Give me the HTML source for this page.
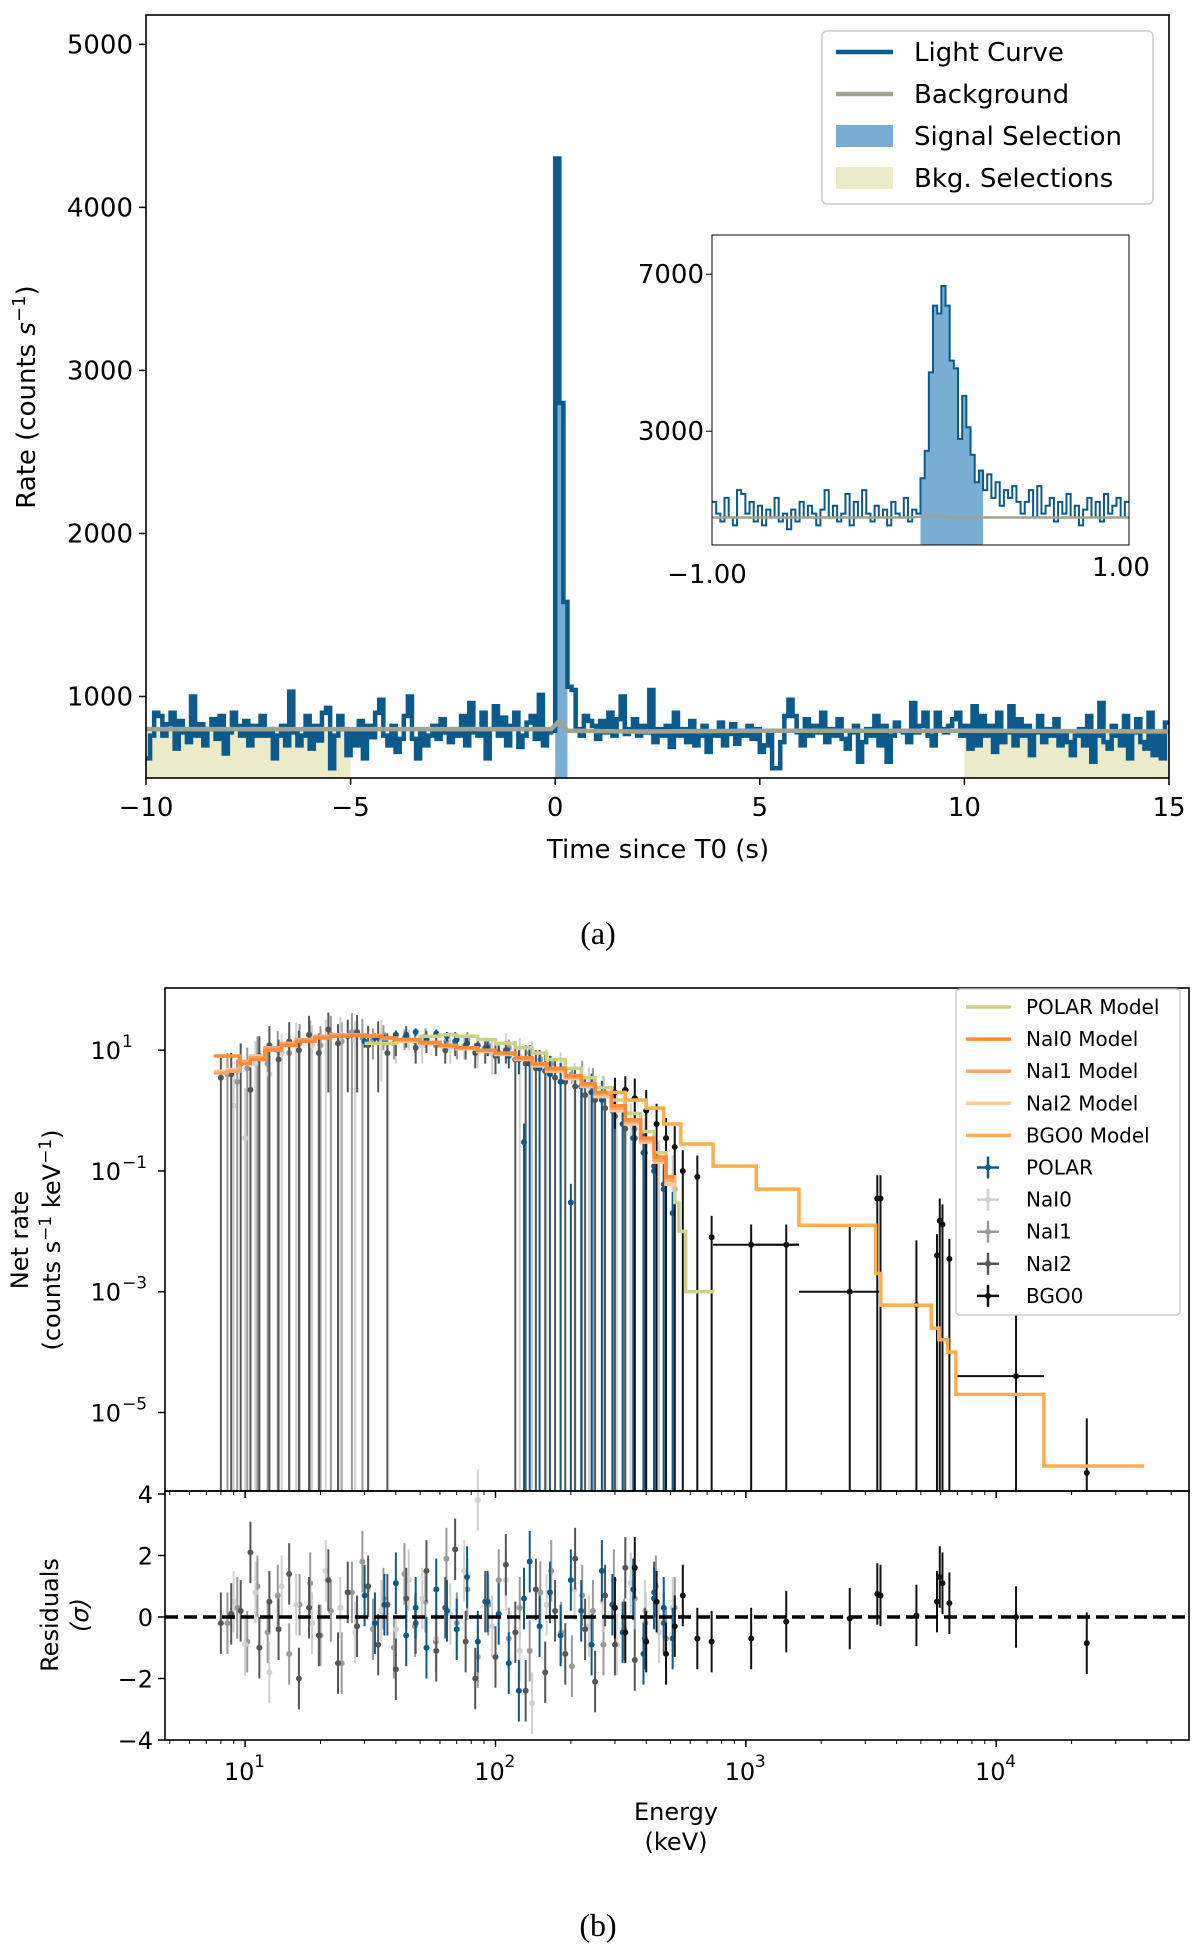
<!DOCTYPE html>
<html><head><meta charset="utf-8"><style>
html,body{margin:0;padding:0;background:#fff;}
svg{display:block;font-family:"DejaVu Sans","Liberation Sans",sans-serif;}
</style></head><body>
<svg id="fig" width="1200" height="1957" viewBox="0 0 1200 1957" xmlns="http://www.w3.org/2000/svg">
<g id="pa"></g>
<g id="pb"></g>
<text x="598" y="944" font-family="Liberation Serif, serif" font-size="32" text-anchor="middle">(a)</text>
<text x="598" y="1936" font-family="Liberation Serif, serif" font-size="32" text-anchor="middle">(b)</text>
</svg>
<script>
// ---------- Panel (a) data ----------
const lcStart = -10, lcBin = 0.1;
const lcRates = [
620,760,900,880,760,830,900,680,850,780,720,1000,760,830,700,800,860,740,880,650,780,900,820,760,850,
700,820,760,880,760,800,620,760,820,700,1030,780,700,760,880,680,820,730,900,930,560,760,880,800,640,
780,700,850,620,820,750,900,980,760,700,820,660,740,880,1000,740,620,790,700,760,820,740,860,780,720,
800,760,880,700,960,780,760,900,620,800,940,760,870,700,820,900,690,760,840,880,740,1010,700,780,790,
4300,2800,1580,1060,1040,800,760,880,850,820,740,850,780,900,760,860,1000,770,800,860,760,820,780,1040,720,
800,760,820,690,900,760,800,720,850,700,760,820,660,780,760,840,700,770,830,710,790,760,820,740,800,
660,700,780,560,560,720,880,980,880,780,700,860,760,820,780,900,720,800,760,860,740,680,780,820,600,
720,800,760,880,700,820,600,760,840,790,780,720,960,780,820,900,760,700,900,800,780,820,860,900,760,
820,680,940,700,880,760,820,660,900,720,780,940,700,860,760,820,640,780,880,720,800,760,860,700,780,
720,640,760,800,700,880,600,760,960,720,680,820,760,700,880,620,780,860,720,680,900,640,760,620,840];
const bgTimes = [-10,-5,-0.1,0.1,0.3,2,5,10,15];
const bgRates = [800,800,800,850,790,785,790,790,785];
const signalSel = [0,0.3];
const bkgSel = [[-10,-5],[10,15]];
const mainYTicks = [1000,2000,3000,4000,5000];
const mainXTicks = [-10,-5,0,5,10,15];
const inStart = -1, inBin = 0.02;
const inRates = [
1200,900,700,1300,800,600,1500,1400,900,1200,700,1100,600,1000,800,1300,700,900,500,1000,700,1200,800,1100,900,
600,1000,1500,800,1100,700,900,1400,600,1200,800,1500,900,700,1100,800,1000,600,1200,900,800,1300,700,1000,900,
1800,2500,4500,6200,6000,6700,6200,4800,4600,2800,3900,3100,2400,1700,2000,1500,1900,1300,1700,1100,1500,1300,1600,1200,900,
1200,1500,800,1600,900,1100,1300,700,1200,900,1400,800,1100,600,1000,1300,800,1200,700,1400,900,1100,1300,800,1200];
const inYTicks = [3000,7000];

// ---------- Panel (b) data ----------
const nai0E = [9,10,11,12.5,14,16,18.5,21,24,27.5,31,35,40,45,51,58,66,75,85,97,110,125,140,160,182,207,236,268,305,347,395,450,510];
const nai0V = [1.2,0.35,6,4,9,14,12,16,18,15,13,17,14,16,12,13,11,12,10,9,13,8,7,5,4.5,3,2.5,1.8,1,0.6,0.35,0.15,0.08];
const nai0Err = [3,2,8,7,10,15,14,16,18,15,13,14,8,6,6,5,5,5,5,5,6,8,7,5.2,4.7,3.2,2.7,2,1.1,0.7,0.4,0.17,0.1];
const nai0Res = [0.5,-0.9,0.8,-1.8,1,0.4,-0.2,1.5,0.3,-0.5,0.9,0.2,-0.4,1.2,0.6,-0.7,0.1,1.5,3.8,-0.3,1.2,-1.1,-2.8,0.4,-0.6,0.9,-0.3,0.5,-0.9,1.1,0.2,-0.5,0.3];
const nai1E = [8.5,9.3,10.2,11.2,12.3,13.5,15,16.5,18.2,20,22,24.3,26.7,29.4,32.4,35.7,39.3,43.3,47.7,52.5,57.8,63.7,70.1,77.2,85,93.6,103,113,125,137,151,167,183,202,222,245,270,297,327,360,397,437,480,520];
const nai1V = [4,3,5,8,6,10,9,13,15,12,18,14,20,16,15,18,13,16,14,17,12,14,11,15,10,12,9,11,8,9,7,6,5,4,3.2,2.5,1.8,1.2,0.8,0.5,0.3,0.15,0.08,0.05];
const nai1Err = [5,4,6,9,7,11,10,14,16,13,19,15,21,17,8,8,6,6,5,6,4,5,4,5,3,4,3,4,3,3,2.5,2,1.5,1.2,3.5,2.6,1.9,1.3,0.9,0.55,0.35,0.17,0.09,0.06];
const nai1Res = [-0.2,0.3,-0.8,1,-0.5,0.7,-1.2,0.4,1.1,-0.6,0.2,-1.5,0.8,1.8,-0.4,0.6,-1,1.4,-0.3,0.5,-0.8,1.9,-0.2,0.9,-1.3,0.4,1.2,-0.7,0.3,-1.1,0.8,1.5,-0.5,-1.6,0.7,0.2,-0.9,1.2,-0.4,0.6,-0.2,1,-0.7,0.3];
const nai2E = [8,8.8,9.6,10.5,11.4,12.5,13.6,15,16.4,18,19.7,21.5,23.5,25.7,28,31,34,37,40,44,48,53,58,63,69,76,83,91,100,110,120,132,145,158,173,190,208,228,250,274,300,330,360,395,430,470];
const nai2V = [3.5,4,6,2.2,8,12,7,14,10,18,9,22,13,17,20,12,16,9,14,18,11,15,13,10,14,12,9,11,8,10,7,6,5,4.5,3.5,3,2.5,1.8,1.5,1.1,0.8,0.5,0.35,0.2,0.12,0.06];
const nai2Err = [4,5,7,3,9,13,8,15,11,19,10,20,14,15,18,13,14,10,6,7,5,6,5,4,6,5,4,5,4,4,7,6,5,4.8,3.6,3.1,2.6,1.9,1.6,1.2,0.9,0.6,0.4,0.25,0.15,0.08];
const nai2Res = [-0.2,0.1,0.2,2.1,-1,0.5,-0.4,1.4,-2,0.3,-0.6,1.2,-1.5,0.8,-0.3,1,-0.9,0.4,-1.7,0.6,-0.2,1.5,-1.1,0.3,2.2,-0.8,-2,0.5,-1.3,1.7,-0.5,-2.4,0.9,-1.8,0.2,-1.2,1.9,-0.4,-2.1,0.7,-0.9,1.6,-1.4,-0.7,0.8,-0.2];
const polE = [30,33,36,40,44,48,53,58,64,70,77,85,93,103,113,124,130,137,150,165,182,200,220,242,266,293,322,355,390,430,470,510];
const polV = [14,16,15,18,17,20,16,19,17,15,13,12,11,9,8,7,0.3,6,5,4,3,0.03,2.5,2,1.5,1,0.6,0.35,0.2,0.1,0.05,0.02];
const polErr = [3,3,3,3,3,3,3,3,3,3,3,3,3,3,3,3,0.31,6.1,5.1,4.1,3.1,0.031,2.6,2.1,1.6,1.1,0.65,0.4,0.22,0.12,0.06,0.025];
const polRes = [0.7,-0.2,0.4,1.1,-0.6,0.3,-1,0.9,0.2,-0.4,1.3,-0.8,0.5,0.1,-1.5,-2.4,0.6,1.8,-0.3,0.8,-0.6,1.2,0.2,-0.9,1.5,0.4,-0.5,0.9,-1.2,0.6,0.3,-0.7];
const bgoE = [300,330,360,400,440,480,520,560,640,730,1050,1450,2600,3350,3450,4800,5800,5950,6100,6500,12000,23000];
const bgoELo = [290,320,350,390,430,470,510,550,630,720,740,1100,1630,3340,3440,3460,5790,5940,6090,6490,6900,22900];
const bgoEHi = [310,340,370,410,450,490,530,570,650,740,1630,1630,3460,3360,3460,5500,5810,5960,6110,6510,15500,23100];
const bgoV = [2,2.2,1.6,1,0.6,0.35,0.25,0.1,0.08,0.008,0.006,0.006,0.001,0.035,0.035,6e-4,0.004,0.015,0.013,0.0035,4e-5,1e-6];
const bgoErr = [1.5,1.5,1.8,1.2,0.7,0.4,0.3,0.12,0.1,0.01,0.007,0.007,0.012,0.05,0.05,0.0065,0.005,0.02,0.015,0.004,4.2e-4,7e-6];
const bgoRes = [0.3,-0.5,1.6,-0.8,0.5,-1.2,-0.3,0.7,-0.7,-0.8,-0.7,-0.15,-0.05,0.75,0.7,0.05,0.5,1.3,1.1,0.45,0,-0.85];
const naiModelEdges = [7.5,8.5,9.5,10.5,12,14,16,19,22,26,30,35,40,50,60,70,85,100,120,140,160,190,220,250,290,330,380,430,480,520];
const nai0ModelV = [8,8,6,7,10,12,14,16,17,17.5,17,16,15,13.5,12,11,10,9,7.5,6,5,3.8,2.8,2,1.2,0.7,0.35,0.17,0.08];
const nai1ModelV = [4.2,4.5,6.5,7.5,11,13,15,17,18,18,17.5,16,15,13,12,11,10,8.8,7.2,5.8,4.8,3.6,2.6,1.9,1.1,0.65,0.32,0.15,0.07];
const nai2ModelV = [4.5,4.8,6,8,10.5,12.5,14.5,16.5,17.5,18,17,15.5,14,13,11.5,10.5,9.5,8.5,7,5.5,4.5,3.4,2.5,1.7,1,0.6,0.3,0.14,0.06];
const bgoModelEdges = [280,330,400,470,550,740,1100,1630,3300,3460,5500,5900,6400,6900,15500,39000];
const bgoModelV = [2,1.5,1.1,0.6,0.28,0.12,0.05,0.0126,0.002,6e-4,2.5e-4,1.6e-4,1e-4,2e-5,1.3e-6];
const polModelEdges = [30,40,50,60,70,85,100,120,140,160,190,220,250,290,330,380,430,480,520,540,575,750];
const polModelV = [13,15,17,18,17,15,13,11,9,7,5,3.5,2.4,1.5,0.9,0.45,0.2,0.08,0.03,0.01,0.001];
const specYTicks = [1,-1,-3,-5];
const resYTicks = [-4,-2,0,2,4];
const energyTicks = [1,2,3,4];

const NS = 'http://www.w3.org/2000/svg';
function el(parent, tag, attrs, txt){const e=document.createElementNS(NS,tag);for(const k in attrs)e.setAttribute(k,attrs[k]);if(txt!==undefined)e.textContent=txt;parent.appendChild(e);return e;}

// ================= Panel A =================
const pa = document.getElementById('pa');
const A = {l:146,r:1169,t:15,b:778,x0:-10,x1:15,y0:500,y1:5180};
const ax = v => A.l + (v-A.x0)/(A.x1-A.x0)*(A.r-A.l);
const ay = v => A.b - (v-A.y0)/(A.y1-A.y0)*(A.b-A.t);
// bkg selections
bkgSel.forEach(s=>{
  const r = el(pa,'rect',{x:ax(s[0]),y:ay(800),width:ax(s[1])-ax(s[0]),height:A.b-ay(800),fill:'#ecebc9'});
  
  
});
// signal selection under curve
{
  let d=''; 
  lcRates.forEach((v,i)=>{const t=lcStart+i*lcBin; if(t>=signalSel[0]-1e-9 && t<signalSel[1]-1e-9){d+=`M${ax(t)},${A.b}V${ay(v)}H${ax(t+lcBin)}V${A.b}Z`;}});
  const p=el(pa,'path',{d:d,fill:'#7aadd3'});
  
  
}
// light curve step
{
  let d='';
  lcRates.forEach((v,i)=>{const t=lcStart+i*lcBin; const y=Math.max(ay(v),A.t); d+=(i===0?`M${ax(t)},${y}`:`V${y}`)+`H${ax(t+lcBin)}`;});
  const p=el(pa,'path',{d:d,fill:'none',stroke:'#0c5a8c','stroke-width':4.5});
  
  
}
{
  const pts=bgTimes.map((t,i)=>ax(t)+','+ay(bgRates[i])).join(' ');
  const p=el(pa,'polyline',{points:pts,fill:'none',stroke:'#9ea392','stroke-width':4.5});
  
  
}
el(pa,'rect',{x:A.l,y:A.t,width:A.r-A.l,height:A.b-A.t,fill:'none',stroke:'#000','stroke-width':1.6});
mainYTicks.forEach(v=>{const y=ay(v);el(pa,'line',{x1:A.l-7,x2:A.l,y1:y,y2:y,stroke:'#000','stroke-width':1.5});
  const t=el(pa,'text',{x:A.l-13,y:y+9,'font-size':26,'text-anchor':'end'},String(v));
  
  });
mainXTicks.forEach(v=>{const x=ax(v);el(pa,'line',{x1:x,x2:x,y1:A.b,y2:A.b+7,stroke:'#000','stroke-width':1.5});
  const t=el(pa,'text',{x:x,y:A.b+38,'font-size':26,'text-anchor':'middle'},(v<0?'\u2212'+(-v):String(v)));
  
  });
{
  const t=el(pa,'text',{x:658,y:858,'font-size':26,'text-anchor':'middle'},'Time since T0 (s)');
  
  
  const t2=el(pa,'text',{transform:'translate(35,397) rotate(-90)','font-size':26,'text-anchor':'middle'});
  
  
  t2.innerHTML='Rate (counts <tspan font-style="italic">s</tspan><tspan dy="-10" font-size="18">\u22121</tspan><tspan dy="10">)</tspan>';
}
// legend a
{
  const g=el(pa,'g',{});
  
  
  el(g,'rect',{x:822,y:31,width:331,height:173,rx:5,fill:'#fff',stroke:'#ccc','stroke-width':1.5});
  const items=[['Light Curve','line','#0c5a8c'],['Background','line','#9ea392'],['Signal Selection','rect','#7aadd3'],['Bkg. Selections','rect','#ecebc9']];
  items.forEach((it,i)=>{const y=52+i*42;
    if(it[1]==='line') el(g,'line',{x1:836,x2:893,y1:y,y2:y,stroke:it[2],'stroke-width':4.5});
    else el(g,'rect',{x:836,y:y-11,width:57,height:22,fill:it[2],stroke:it[3]||'none'});
    const t=el(g,'text',{x:914,y:y+9,'font-size':26},it[0]);
    
    });
}
// inset
{
  const I={l:712,r:1129,t:235,b:545,x0:-1,x1:1,y0:100,y1:8000};
  const ix=v=>I.l+(v-I.x0)/(I.x1-I.x0)*(I.r-I.l);
  const iy=v=>I.b-(v-I.y0)/(I.y1-I.y0)*(I.b-I.t);
  const g=el(pa,'g',{});
  
  
  el(g,'rect',{x:I.l,y:I.t,width:I.r-I.l,height:I.b-I.t,fill:'#fff',stroke:'#000','stroke-width':1});
  let d='';
  inRates.forEach((v,i)=>{const t=inStart+i*inBin; if(t>=signalSel[0]-1e-9&&t<signalSel[1]-1e-9) d+=`M${ix(t)},${I.b}V${iy(v)}H${ix(t+inBin)}V${I.b}Z`;});
  const sp=el(g,'path',{d:d,fill:'#7aadd3'});
  
  
  let d2='';
  inRates.forEach((v,i)=>{const t=inStart+i*inBin; d2+=(i===0?`M${ix(t)},${iy(v)}`:`V${iy(v)}`)+`H${ix(t+inBin)}`;});
  const lp=el(g,'path',{d:d2,fill:'none',stroke:'#0c5a8c','stroke-width':2});
  
  
  const bl=el(g,'polyline',{points:`${ix(-1)},${iy(800)} ${ix(-0.05)},${iy(800)} ${ix(0.05)},${iy(850)} ${ix(0.15)},${iy(800)} ${ix(1)},${iy(800)}`,fill:'none',stroke:'#9ea392','stroke-width':2.5});
  
  
  el(g,'rect',{x:I.l,y:I.t,width:I.r-I.l,height:I.b-I.t,fill:'none',stroke:'#000','stroke-width':1});
  inYTicks.forEach(v=>{const y=iy(v);el(g,'line',{x1:I.l-6,x2:I.l,y1:y,y2:y,stroke:'#000'});
    const t=el(g,'text',{x:I.l-8,y:y+9,'font-size':26,'text-anchor':'end'},String(v));
    
    });
  const t1=el(g,'text',{x:707,y:583,'font-size':26,'text-anchor':'middle'},'\u22121.00');
  
  
  const t2=el(g,'text',{x:1121,y:576,'font-size':26,'text-anchor':'middle'},'1.00');
  
  
}

// ================= Panel B =================
const pb=document.getElementById('pb');
const B={l:165,r:1189,t:988,m:1491,b:1740,lx0:0.68,lx1:4.77,ly0:-6.3,ly1:2.03};
const bx=e=>B.l+(Math.log10(e)-B.lx0)/(B.lx1-B.lx0)*(B.r-B.l);
const by=v=>v<=0?B.m:Math.max(B.t,Math.min(B.m,B.m-(Math.log10(v)-B.ly0)/(B.ly1-B.ly0)*(B.m-B.t)));
const ry=v=>B.b-(v+4)/8*(B.b-B.m-3)-0;
const clipId='clipB';
{const cp=el(pb,'clipPath',{id:clipId});el(cp,'rect',{x:B.l,y:B.t,width:B.r-B.l,height:B.m-B.t});}
const specG=el(pb,'g',{'clip-path':'url(#clipB)'});


const dets=[
  ['nai1',nai1E,nai1V,nai1Err,nai1Res,'#999999'],
  ['nai0',nai0E,nai0V,nai0Err,nai0Res,'#d0d0d0'],
  ['nai2',nai2E,nai2V,nai2Err,nai2Res,'#555555'],
  ['polar',polE,polV,polErr,polRes,'#0c5a8c'],
];
function drawPoints(name,E,V,Err,Res,col,ELo,EHi){
  const g=el(specG,'g',{});
  
  
  const rg=el(pb,'g',{});
  
  
  E.forEach((e,i)=>{const x=bx(e);
    const lo=V[i]-Err[i], hi=V[i]+Err[i];
    el(g,'line',{x1:x,x2:x,y1:by(hi),y2:lo<=0?B.m:by(lo),stroke:col,'stroke-width':2});
    if(ELo) el(g,'line',{x1:bx(ELo[i]),x2:bx(EHi[i]),y1:by(V[i]),y2:by(V[i]),stroke:col,'stroke-width':2});
    el(g,'circle',{cx:x,cy:by(V[i]),r:3,fill:col});
    const r=Res[i];
    el(rg,'line',{x1:x,x2:x,y1:ry(r+1),y2:ry(r-1),stroke:col,'stroke-width':2});
    el(rg,'circle',{cx:x,cy:ry(r),r:3,fill:col});
  });
}
function stepModel(name,edges,vals,col){
  let d='';
  vals.forEach((v,i)=>{const y=by(v); d+=(i===0?`M${bx(edges[i])},${y}`:`V${y}`)+`H${bx(edges[i+1])}`;});
  const p=el(specG,'path',{d:d,fill:'none',stroke:col,'stroke-width':3.5});
  
  
}
dets.forEach(dd=>drawPoints(dd[0],dd[1],dd[2],dd[3],dd[4],dd[5]));
drawPoints('bgo0',bgoE,bgoV,bgoErr,bgoRes,'#111111',bgoELo,bgoEHi);
stepModel('polar-model',polModelEdges,polModelV,'#cfcf8c');
stepModel('nai2-model',naiModelEdges,nai2ModelV,'#fcc99a');
stepModel('nai1-model',naiModelEdges,nai1ModelV,'#fba56a');
stepModel('nai0-model',naiModelEdges,nai0ModelV,'#ff8a3a');
stepModel('bgo0-model',bgoModelEdges,bgoModelV,'#ffad4d');
// residual zero line
{const l=el(pb,'line',{x1:B.l,x2:B.r,y1:ry(0),y2:ry(0),stroke:'#000','stroke-width':3.5,'stroke-dasharray':'13,6'});
 
 }
el(pb,'rect',{x:B.l,y:B.t,width:B.r-B.l,height:B.m-B.t,fill:'none',stroke:'#000','stroke-width':1.6});
el(pb,'rect',{x:B.l,y:B.m,width:B.r-B.l,height:B.b-B.m,fill:'none',stroke:'#000','stroke-width':1.6});
specYTicks.forEach(p=>{const y=by(Math.pow(10,p));el(pb,'line',{x1:B.l-7,x2:B.l,y1:y,y2:y,stroke:'#000','stroke-width':1.5});
  const t=el(pb,'text',{x:B.l-44,y:y+9,'font-size':24,'text-anchor':'end'},'10');
  
  
  el(pb,'text',{x:B.l-43,y:y-3,'font-size':17,'text-anchor':'start'},(p<0?'\u2212'+(-p):String(p)));});
resYTicks.forEach(v=>{const y=ry(v);el(pb,'line',{x1:B.l-7,x2:B.l,y1:y,y2:y,stroke:'#000','stroke-width':1.5});
  const t=el(pb,'text',{x:B.l-12,y:y+9,'font-size':24,'text-anchor':'end'},(v<0?'\u2212'+(-v):String(v)));
  
  });
energyTicks.forEach(p=>{const x=bx(Math.pow(10,p));
  [B.m,B.b].forEach(yy=>el(pb,'line',{x1:x,x2:x,y1:yy,y2:yy+7,stroke:'#000','stroke-width':1.5}));
  const t=el(pb,'text',{x:x-6,y:B.b+40,'font-size':24,'text-anchor':'middle'},'10');
  
  
  el(pb,'text',{x:x+9,y:B.b+27,'font-size':17},String(p));});
// minor ticks
for(let p=0;p<=4;p++){for(let k=2;k<=9;k++){const e=k*Math.pow(10,p);const lg=Math.log10(e);if(lg<B.lx0||lg>B.lx1)continue;const x=bx(e);
  [B.m,B.b].forEach(yy=>el(pb,'line',{x1:x,x2:x,y1:yy,y2:yy+4,stroke:'#000','stroke-width':1}));}}
{
  const t=el(pb,'text',{x:676,y:1820,'font-size':24,'text-anchor':'middle'},'Energy');
  
  
  el(pb,'text',{x:676,y:1850,'font-size':24,'text-anchor':'middle'},'(keV)');
  const y1=el(pb,'text',{transform:'translate(28,1240) rotate(-90)','font-size':24,'text-anchor':'middle'},'Net rate');
  
  
  const y2=el(pb,'text',{transform:'translate(60,1240) rotate(-90)','font-size':24,'text-anchor':'middle'});
  y2.innerHTML='(counts s<tspan dy="-9" font-size="17">\u22121</tspan><tspan dy="9"> keV</tspan><tspan dy="-9" font-size="17">\u22121</tspan><tspan dy="9">)</tspan>';
  const r1=el(pb,'text',{transform:'translate(58,1615) rotate(-90)','font-size':24,'text-anchor':'middle'},'Residuals');
  
  
  el(pb,'text',{transform:'translate(88,1615) rotate(-90)','font-size':24,'text-anchor':'middle','font-style':'italic'},'(\u03c3)');
}
// legend b
{
  const g=el(pb,'g',{});
  
  
  el(g,'rect',{x:956,y:989,width:224,height:326,rx:4,fill:'#fff',stroke:'#ccc','stroke-width':1.5});
  const items=[['POLAR Model','#cfcf8c',0],['NaI0 Model','#ff8a3a',0],['NaI1 Model','#fba56a',0],['NaI2 Model','#fcc99a',0],['BGO0 Model','#ffad4d',0],
    ['POLAR','#0c5a8c',1],['NaI0','#d0d0d0',1],['NaI1','#999999',1],['NaI2','#555555',1],['BGO0','#111111',1]];
  items.forEach((it,i)=>{const y=1007+i*32.1;
    if(!it[2]) el(g,'line',{x1:966,x2:1011,y1:y,y2:y,stroke:it[1],'stroke-width':3.5});
    else {el(g,'line',{x1:977,x2:999,y1:y,y2:y,stroke:it[1],'stroke-width':2.5});el(g,'line',{x1:988,x2:988,y1:y-11,y2:y+11,stroke:it[1],'stroke-width':2.5});el(g,'circle',{cx:988,cy:y,r:3,fill:it[1]});}
    const t=el(g,'text',{x:1026,y:y+7,'font-size':20},it[0]);
    
    });
}
</script>
</body></html>
